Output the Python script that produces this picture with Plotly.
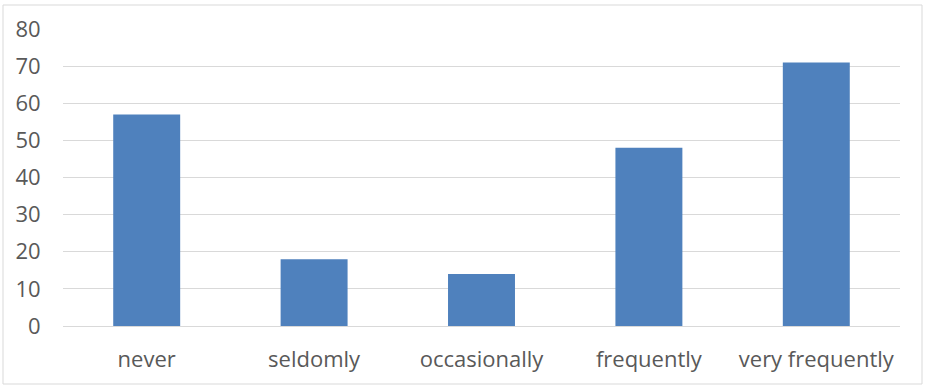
import plotly.graph_objects as go

categories = ["never", "seldomly", "occasionally", "frequently", "very frequently"]
values = [57, 18, 14, 48, 71]
y_ticks = [0, 10, 20, 30, 40, 50, 60, 70, 80]

W, H = 932, 392
L, R, T, B = 63, 32, 29, 66
pw, ph = W - L - R, H - T - B

fig = go.Figure(go.Bar(x=categories, y=values, marker=dict(color="#4F81BD", line=dict(width=0)),
                       width=0.4, hoverinfo="skip"))

fig.update_layout(
    width=W, height=H,
    margin=dict(l=L, r=R, t=T, b=B),
    paper_bgcolor="white", plot_bgcolor="white",
    font=dict(family="Open Sans, Liberation Sans, sans-serif", size=22, color="#595959"),
    showlegend=False,
    xaxis=dict(showgrid=False, showline=True, linecolor="#D9D9D9", linewidth=1,
               ticks="outside", ticklen=14, tickcolor="rgba(0,0,0,0)",
               tickfont=dict(size=22, color="#595959")),
    yaxis=dict(range=[0, 80], tickvals=y_ticks, showgrid=True, gridcolor="#D9D9D9", gridwidth=1,
               zeroline=False, showline=False, ticks="outside", ticklen=17,
               tickcolor="rgba(0,0,0,0)", tickfont=dict(size=22, color="#595959")),
    shapes=[dict(type="rect", xref="paper", yref="paper",
                 x0=(3 - L) / pw, x1=(922 - L) / pw,
                 y0=(H - B - 384) / ph, y1=(H - B - 5) / ph,
                 line=dict(color="#D9D9D9", width=1), fillcolor="rgba(0,0,0,0)", layer="below")],
)

fig.write_html("out.html", config={"displayModeBar": False},
               post_script="document.body.style.margin='0';document.body.style.overflow='hidden';")
